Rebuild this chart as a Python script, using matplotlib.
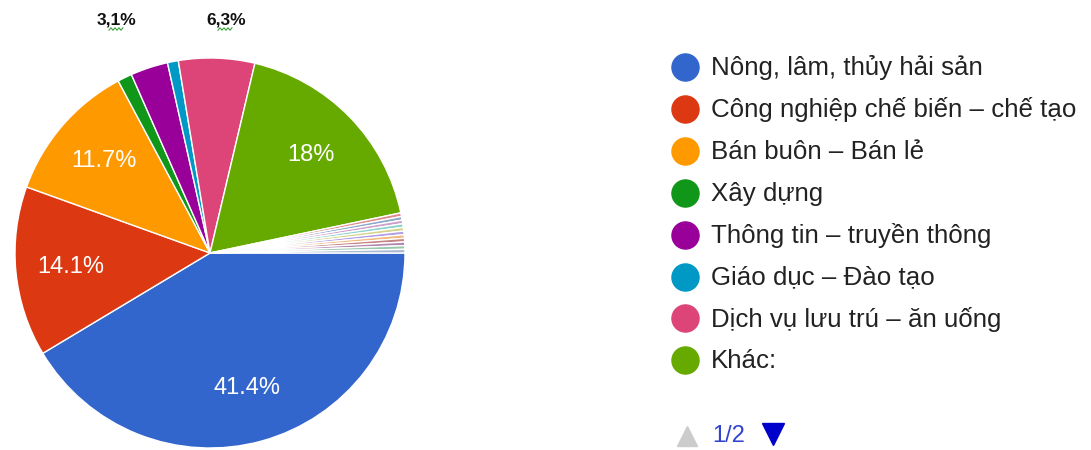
#!/usr/bin/env python3

# Pie chart of respondents by sector (Google Forms style), with side legend.
import matplotlib.pyplot as plt
import numpy as np

plt.rcParams['font.family'] = ['Liberation Sans', 'DejaVu Sans']

# Main categories (legend page 1/2)
categories = ['Nông, lâm, thủy hải sản', 'Công nghiệp chế biến – chế tạo',
              'Bán buôn – Bán lẻ', 'Xây dựng', 'Thông tin – truyền thông',
              'Giáo dục – Đào tạo', 'Dịch vụ lưu trú – ăn uống', 'Khác:']
shares = [41.4, 14.1, 11.7, 1.2, 3.1, 0.9, 6.3, 18.0]
colors = ['#3366cc', '#dc3912', '#ff9900', '#109618', '#990099',
          '#0099c6', '#dd4477', '#66aa00']
inner_labels = ['41.4%', '14.1%', '11.7%', '', '', '', '', '18%']

# Small "other" answers shown as thin slivers
sliver_shares = [0.3] * 11
sliver_colors = ['#e08c8c', '#8fa8cc', '#cc9fcc', '#8fd4cc', '#d4d488',
                 '#b29fe6', '#f2b980', '#c58383', '#b288b3', '#98c8b0',
                 '#aab9d2']

# Callouts typed above the chart
callouts = ['3,1%', '6,3%']

W, H = 1091, 450
fig = plt.figure(figsize=(W / 100, H / 100), dpi=100)

# pie axes: centre (210, 253) px, radius 195 px
cx, cy, r = 210, 253, 195
ax = fig.add_axes([(cx - r) / W, (H - cy - r) / H, 2 * r / W, 2 * r / H])
wedges, _ = ax.pie(shares + sliver_shares, colors=colors + sliver_colors,
                   startangle=0, counterclock=False, radius=1,
                   wedgeprops=dict(edgecolor='white', linewidth=1))
ax.set_xlim(-1, 1)
ax.set_ylim(-1, 1)
ax.set_aspect('equal')
ax.axis('off')

for w, lab in zip(wedges, inner_labels):
    if not lab:
        continue
    mid = np.deg2rad((w.theta1 + w.theta2) / 2)
    ax.text(0.72 * np.cos(mid), 0.72 * np.sin(mid), lab, color='white',
            fontsize=17, ha='center', va='center')

# overlay in pixel coordinates for legend and callouts
ov = fig.add_axes([0, 0, 1, 1])
ov.set_xlim(0, W)
ov.set_ylim(H, 0)
ov.axis('off')

for x, txt in zip([117, 226], callouts):
    ov.text(x, 20, txt, fontsize=12.5, fontweight='bold', color='#111111',
            ha='center', va='center')
    # spell-check squiggle under the decimal part
    sx = np.linspace(x - 8, x + 6, 8)
    ov.plot(sx, 29 + 1.2 * (-1) ** np.arange(8), color='#3aa03a', lw=0.8)

y0, step = 67, 41.9
for i, (name, c) in enumerate(zip(categories, colors)):
    y = y0 + i * step
    ov.plot(685, y, 'o', markersize=19.5, color=c)
    ov.text(711, y + 1, name, fontsize=18.6, color='#222222', va='center')

ov.plot(687, 436, '^', markersize=15, color='#cccccc')
ov.text(712, 436, '1/2', fontsize=17, color='#3344cc', va='center')
ov.plot(773, 434, 'v', markersize=16, color='#0000cc')

fig.savefig('out.png', dpi=100)
